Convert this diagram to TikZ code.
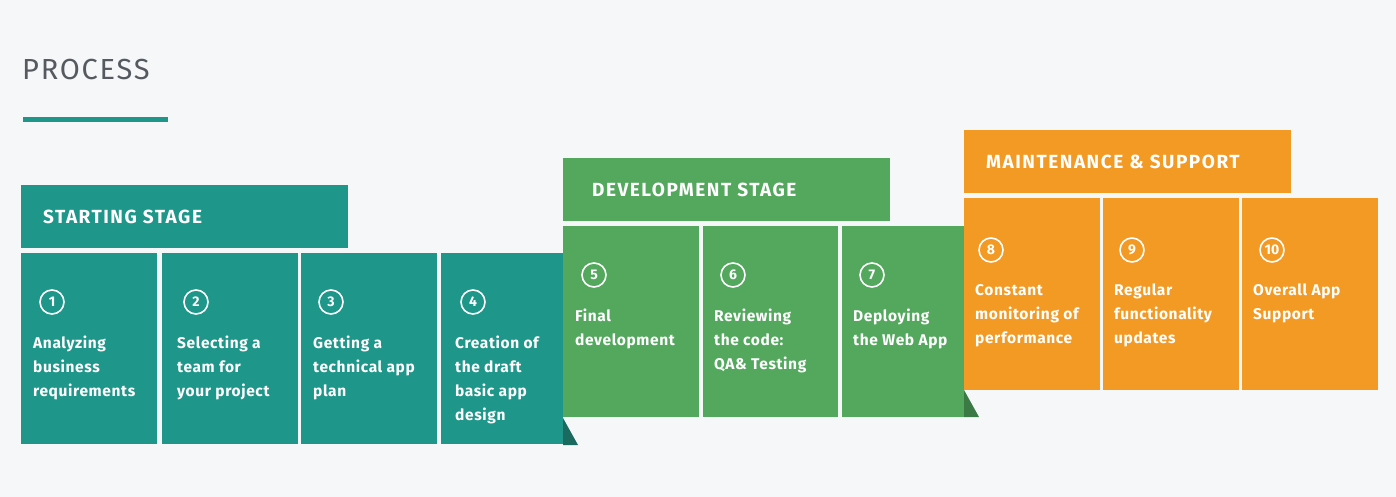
\documentclass[tikz,border=0pt]{standalone}
\usepackage{fontspec}
\setmainfont{Fira Sans}
\usetikzlibrary{positioning}
\definecolor{bgpage}{HTML}{F6F7F9}
\definecolor{tealc}{HTML}{1E968A}
\definecolor{tealdark}{HTML}{1B6A60}
\definecolor{greenc}{HTML}{53A85D}
\definecolor{greendark}{HTML}{3C7A45}
\definecolor{orangec}{HTML}{F39A25}
\definecolor{titlegray}{HTML}{555A60}
\tikzset{
  stagehead/.style={anchor=west, inner sep=0pt, text=white,
    font=\fontsize{19}{19}\selectfont\bfseries\addfontfeatures{LetterSpace=8}},
  steptext/.style={anchor=north west, inner sep=0pt, text=white, align=left,
    font=\fontsize{15.5}{24}\selectfont\bfseries\addfontfeatures{LetterSpace=4}},
  numring/.style={circle, draw=white, line width=1.6pt, minimum size=24pt, inner sep=0pt,
    text=white, font=\fontsize{14}{14}\selectfont\bfseries}
}
\begin{document}
\begin{tikzpicture}[x=1pt,y=-1pt]
\fill[bgpage] (0,0) rectangle (1396,497);
\useasboundingbox (0,0) rectangle (1396,497);
% title
\node[anchor=west, inner sep=0pt, text=titlegray,
  font=\fontsize{29}{29}\selectfont\addfontfeatures{LetterSpace=6}] (title) at (22,70) {PROCESS};
\fill[tealc] (23,117) rectangle (168,122);
% starting stage
\fill[tealc] (21,185) rectangle (348,248);
\node[stagehead] (hstart) at (43,217) {STARTING STAGE};
\foreach \xa/\xb in {21/157,162/298,301/437,441/563}
  \fill[tealc] (\xa,253) rectangle (\xb,444);
\fill[tealdark] (563,418) -- (578,445) -- (563,445) -- cycle;
% development stage
\fill[greenc] (563,158) rectangle (890,221);
\node[stagehead] (hdev) at (592,190) {DEVELOPMENT STAGE};
\foreach \xa/\xb in {563/699,703/838,842/964}
  \fill[greenc] (\xa,226) rectangle (\xb,417);
\fill[greendark] (964,390) -- (979,417) -- (964,417) -- cycle;
% maintenance
\fill[orangec] (964,130) rectangle (1291,193);
\node[stagehead] (hmaint) at (986,162) {MAINTENANCE \& SUPPORT};
\foreach \xa/\xb in {964/1100,1103/1239,1242/1378}
  \fill[orangec] (\xa,198) rectangle (\xb,390);
% steps
\foreach \n/\cx/\cy/\tx/\txt in {
  1/52/302/33/{Analyzing\\business\\requirements},
  2/196/302/177/{Selecting a\\team for\\your project},
  3/331/302/313/{Getting a\\technical app\\plan},
  4/473/302/455/{Creation of\\the draft\\basic app\\design},
  5/594/275/575/{Final\\development},
  6/733/275/714/{Reviewing\\the code:\\QA\& Testing},
  7/872/275/853/{Deploying\\the Web App},
  8/991/250/975/{Constant\\monitoring of\\performance},
  9/1132/250/1114/{Regular\\functionality\\updates},
  10/1272/250/1253/{Overall App\\Support}}{
  \node[numring] (n\n) at (\cx,\cy) {\n};
  \node[steptext] (t\n) at (\tx,\cy+34) {\txt};
}
\end{tikzpicture}
\end{document}
